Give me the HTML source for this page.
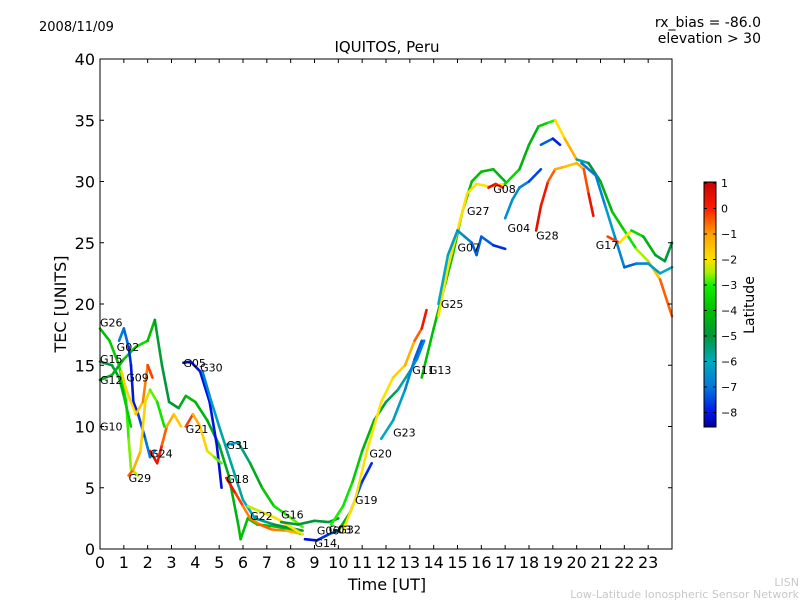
<!DOCTYPE html>
<html><head><meta charset="utf-8"><style>
body{margin:0;background:#fff;font-family:"DejaVu Sans","Liberation Sans",sans-serif}
svg text{font-family:"DejaVu Sans","Liberation Sans",sans-serif}
</style></head><body>
<svg width="800" height="600" xmlns="http://www.w3.org/2000/svg">
<text x="39" y="31" font-size="13">2008/11/09</text>
<text x="761" y="27" font-size="14" text-anchor="end">rx_bias = -86.0</text>
<text x="761" y="43" font-size="14" text-anchor="end">elevation &gt; 30</text>
<text x="387" y="52" font-size="15" text-anchor="middle">IQUITOS, Peru</text>
<g id="tracks"></g>
<g id="labels"></g>
<rect x="100" y="59" width="572" height="490" fill="none" stroke="#000"/>
<g id="axes"></g>
<text x="387" y="590" font-size="16" text-anchor="middle">Time [UT]</text>
<text transform="translate(66,304) rotate(-90)" font-size="16" text-anchor="middle">TEC [UNITS]</text>
<defs><linearGradient id="jet" x1="0" y1="1" x2="0" y2="0" id2="g"></linearGradient></defs>
<rect x="704" y="182" width="12" height="245" fill="url(#jet)" stroke="#000"/>
<g id="cbticks"></g>
<text transform="translate(754,305) rotate(-90)" font-size="14" text-anchor="middle">Latitude</text>
<text x="799" y="586" font-size="11" fill="#c8c8c8" text-anchor="end">LISN</text>
<text x="799" y="598" font-size="11" fill="#c8c8c8" text-anchor="end">Low-Latitude Ionospheric Sensor Network</text>
</svg>
<script>
const xTicks=[0,1,2,3,4,5,6,7,8,9,10,11,12,13,14,15,16,17,18,19,20,21,22,23];
const yTicks=[0,5,10,15,20,25,30,35,40];
const cbTicks=[1,0,-1,-2,-3,-4,-5,-6,-7,-8];
// each track: [time, tec, latitude]
const trackG26=[[0,18,-4],[0.4,17,-4],[0.8,15,-3.5],[1.1,12,-3],[1.2,9,-2.8],[1.3,6.5,-2.5],[1.6,6,-2.5]];
const trackG15=[[0,15.3,-5],[0.5,15,-5],[0.8,14,-4.5],[1.0,12.5,-4],[1.3,10,-3.5]];
const trackG12=[[0,13.8,-4.5],[0.5,14.2,-4.5],[1,15.5,-4],[1.5,16.5,-3.5],[2,17,-3.5],[2.3,18.7,-4.5],[2.6,15,-5],[2.9,12,-5],[3.3,11.5,-5],[3.6,12.5,-4],[4,12,-4],[4.5,10.5,-4.5],[5,8.5,-4.5],[5.4,6,-4.5],[5.8,2,-4],[5.9,0.8,-4],[6.2,2.5,-4],[6.6,2,-4],[7.5,1.8,-4],[8.5,1.2,-4]];
const trackG02=[[0.8,17,-7],[1.0,18,-6.8],[1.2,16.5,-7.5],[1.3,15,-8],[1.4,12,-8],[1.6,11,-8],[1.9,9,-7],[2.1,7.5,-7],[2.3,8,-7]];
const trackG09=[[0.9,14.5,-2],[1.1,13,-1.5],[1.3,12,-2],[1.5,11,-2],[1.8,12,-1],[2,15,-0.5],[2.2,14,0]];
const trackG29=[[1.2,6,0],[1.4,6.5,-1],[1.7,8,-1.5],[1.9,12,-2],[2.1,13,-2.5],[2.4,12,-3],[2.7,10,-3.5]];
const trackG24=[[2.1,8,0.5],[2.4,7,0.5],[2.6,8.5,0],[2.8,10,-1],[3.1,11,-1.5],[3.4,10,-1.8]];
const trackG05=[[3.5,15.2,-8.3],[3.8,15.3,-8.3],[4.2,14.5,-8],[4.6,12,-8],[4.9,8.5,-8],[5.1,5,-8.3]];
const trackG30=[[4.3,14.5,-7],[4.6,12.5,-6.5],[5.0,10,-6],[5.5,7,-5.5],[6,4,-6],[6.5,2.5,-6],[7.3,2,-5],[8.5,1.5,-5]];
const trackG21=[[3.6,10,0.5],[3.9,11,-1],[4.2,10,-1.5],[4.5,8,-2],[4.8,7.5,-2.5],[5.1,7,-3]];
const trackG31=[[5.3,8.5,-6.8],[5.8,8.7,-6],[6.3,7,-5],[6.8,5,-4],[7.3,3.5,-3.5],[7.9,2.7,-3],[8.5,1.8,-2.5]];
const trackG18=[[5.3,5.8,0.5],[5.7,4.5,0],[6,3.5,-0.5],[6.3,2.5,-1],[6.7,2,-0.5],[7.2,1.6,-0.5],[7.8,1.5,-1],[8.3,1.3,-1.5]];
const trackG22=[[6.2,3.5,-2.5],[6.8,3,-2.2],[7.4,2.5,-2],[8,1.8,-2],[8.5,1.2,-2]];
const trackG16=[[7.6,2.2,-5],[8.3,2,-5],[9,2.3,-5],[9.6,2.2,-5],[10,2.5,-4.5]];
const trackG14=[[8.6,0.8,-8.3],[9.1,0.7,-8],[9.6,1.2,-7.5],[10,1.5,-7]];
const trackG19=[[9.7,2,-3],[10.2,3.5,-3],[10.6,5.5,-3.5],[11,8,-4],[11.5,10.5,-4.5],[12,12,-5],[12.5,13,-5.5],[13,14.5,-6],[13.3,15.5,-6.5],[13.6,17,-7]];
const trackG20=[[10,1.5,-2],[10.5,3,-7],[11,5.5,-7.5],[11.4,7,-8]];
const trackG23=[[10.2,1.5,-2],[10.7,4,-2],[11.2,8,-2],[11.8,12,-2],[12.3,14,-2],[12.8,15,-1.5],[13.2,17,-1],[13.5,18,0],[13.7,19.5,0.5]];
const trackG13=[[11.8,9,-6],[12.3,10.5,-6],[12.8,13,-6.5],[13.2,15.5,-7],[13.5,17,-7.5]];
const trackG25=[[13.5,14,-4],[14,18,-4],[14.4,21,-4],[14.8,24,-4],[15.2,27.5,-4],[15.6,30,-4],[16,30.8,-4],[16.5,31,-4],[17,30,-4.5]];
const trackG27=[[14.2,19,-2],[14.6,23,-2],[15,26,-2],[15.4,29,-2],[15.8,29.8,-2],[16.3,29.6,-2],[17,29.8,-2]];
const trackG07=[[14.2,20,-6],[14.6,24,-6],[15,26,-6.5],[15.3,25.5,-6.5],[15.6,25,-7],[15.8,24,-7.5],[16,25.5,-7],[16.5,24.8,-7.5],[17,24.5,-8]];
const trackG08=[[16.3,29.5,0.5],[16.6,29.8,0.5],[16.9,29.5,-0.5]];
const trackG04=[[17,27,-6.5],[17.3,28.5,-6.5],[17.6,29.5,-6.5],[18,30,-7],[18.5,31,-8]];
const trackG28=[[18.3,26,0.5],[18.5,28,0.5],[18.8,30,0],[19.1,31,-1],[19.5,31.2,-1.5],[20,31.5,-1.5],[20.3,31,-1],[20.5,29,0.3],[20.7,27.2,0.5]];
const trackPeak=[[17,29.8,-3],[17.6,31,-4],[18,33,-4.5],[18.4,34.5,-4],[18.8,34.8,-3.5],[19.1,35,-2.5],[19.5,33.5,-1.5],[20,31.8,-1]];
const trackBlue=[[18.5,33,-7],[19,33.5,-7.5],[19.3,33,-8.3]];
const trackG17=[[20,31.8,-6],[20.5,31.5,-5.5],[21,30,-4.5],[21.5,27.5,-4],[22,26,-3.5],[22.5,24.5,-3],[23,23.5,-2],[23.5,22,-1],[24,19,0]];
const trackG17b=[[20.2,31.5,-7],[20.8,30.5,-7],[21.2,28,-6.5],[21.6,25.5,-6],[22,23,-7.5],[22.5,23.3,-7],[23,23.3,-6.5],[23.5,22.5,-6],[24,23,-6]];
const trackG17c=[[21.3,25.5,0.5],[21.8,25,-1],[22.3,26,-3],[22.8,25.5,-4],[23.3,24,-4.5],[23.7,23.5,-5],[24,25,-5]];
const tracks=[trackG26,trackG15,trackG12,trackG02,trackG09,trackG29,trackG24,trackG05,trackG30,trackG21,trackG31,trackG18,trackG22,trackG16,trackG14,trackG19,trackG20,trackG23,trackG13,trackG25,trackG27,trackG07,trackG08,trackG04,trackG28,trackPeak,trackBlue,trackG17,trackG17b,trackG17c];
const satNames=["G26","G15","G12","G10","G02","G09","G29","G24","G05","G30","G21","G31","G18","G22","G16","G14","G06","G03","G32","G19","G20","G23","G13","G11","G25","G27","G07","G08","G04","G28","G17"];
const satTimes=[0,0,0,0,0.7,1.1,1.2,2.1,3.5,4.2,3.6,5.3,5.3,6.3,7.6,9,9.1,9.6,10,10.7,11.3,12.3,13.8,13.1,14.3,15.4,15,16.5,17.1,18.3,20.8];
const satTec=[18.5,15.5,13.8,10,16.5,14,5.8,7.8,15.2,14.8,9.8,8.5,5.7,2.7,2.8,0.5,1.5,1.6,1.6,4,7.8,9.5,14.6,14.6,20,27.6,24.6,29.4,26.2,25.6,24.8];
const X=t=>100+t*572/24, Y=v=>549-v*490/40, C=l=>427-(l+8.57)*(245/9.61);
const cmap=[[-8.6,[0,0,150]],[-8,[0,20,230]],[-7,[0,120,220]],[-6,[0,170,190]],[-5,[0,150,60]],[-4,[0,190,0]],[-3,[20,240,0]],[-2.5,[170,240,0]],[-2,[255,225,0]],[-1,[255,160,0]],[0,[255,30,0]],[1.1,[200,0,0]]];
function jet(l){if(l<=cmap[0][0])return `rgb(${cmap[0][1]})`;
 for(let i=0;i<cmap.length-1;i++){const a=cmap[i],b=cmap[i+1];if(l<=b[0]){const f=(l-a[0])/(b[0]-a[0]);
  return `rgb(${a[1].map((v,k)=>Math.round(v+(b[1][k]-v)*f)).join(',')})`;}}
 return `rgb(${cmap[cmap.length-1][1]})`;}
const NS="http://www.w3.org/2000/svg";
function mk(tag,attrs,parent,txt){const e=document.createElementNS(NS,tag);for(const k in attrs)e.setAttribute(k,attrs[k]);if(txt!==undefined)e.textContent=txt;document.getElementById(parent).appendChild(e);return e;}
cmap.forEach(s=>{const st=mk('stop',{offset:Math.max(0,Math.min(1,(s[0]+8.57)/9.61)),'stop-color':`rgb(${s[1]})`},'jet');});
tracks.forEach((tr,i)=>{for(let j=0;j<tr.length-1;j++){const a=tr[j],b=tr[j+1];
 const s=mk('line',{x1:X(a[0]),y1:Y(a[1]),x2:X(b[0]),y2:Y(b[1]),stroke:jet((a[2]+b[2])/2),'stroke-width':2.6,'stroke-linecap':'round'},'tracks');
 
 }});
satNames.forEach((n,i)=>{const t=mk('text',{x:X(satTimes[i]),y:Y(satTec[i])+4,'font-size':11},'labels',n);
 
 });
xTicks.forEach(t=>{const x=X(t);
 mk('line',{x1:x,y1:549,x2:x,y2:545,stroke:'#000'},'axes');mk('line',{x1:x,y1:59,x2:x,y2:63,stroke:'#000'},'axes');
 const l=mk('text',{x:x,y:568,'font-size':16,'text-anchor':'middle'},'axes',t);
 
 });
yTicks.forEach(v=>{const y=Y(v);
 mk('line',{x1:100,y1:y,x2:104,y2:y,stroke:'#000'},'axes');mk('line',{x1:672,y1:y,x2:668,y2:y,stroke:'#000'},'axes');
 const l=mk('text',{x:95,y:y+6,'font-size':16,'text-anchor':'end'},'axes',v);
 
 });
cbTicks.forEach(v=>{const y=C(v);
 mk('line',{x1:704,y1:y,x2:707,y2:y,stroke:'#000'},'cbticks');mk('line',{x1:716,y1:y,x2:713,y2:y,stroke:'#000'},'cbticks');
 const l=mk('text',{x:721,y:y+4,'font-size':11},'cbticks',v<0?'\u2212'+(-v):v);
 
 });
</script>
</body></html>
